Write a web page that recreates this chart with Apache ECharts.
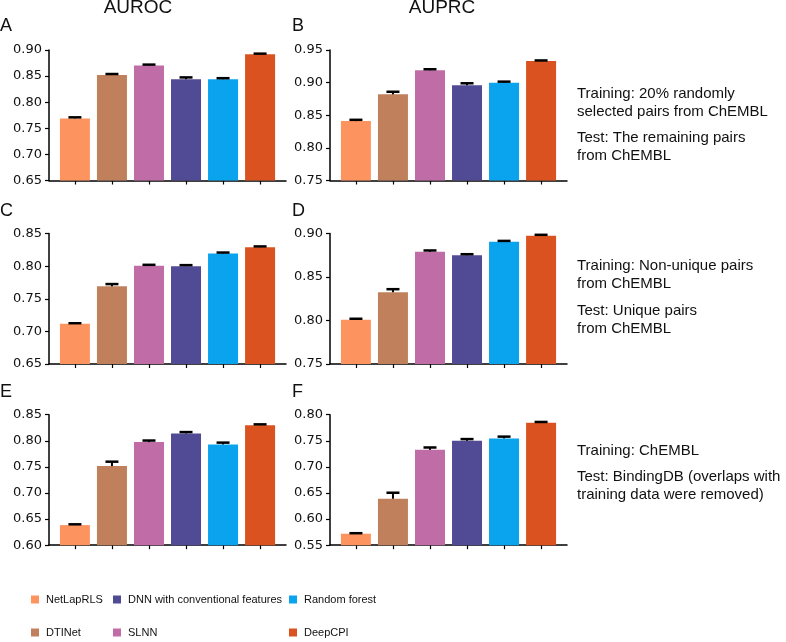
<!DOCTYPE html>
<html>
<head>
<meta charset="utf-8">
<title>DeepCPI AUROC / AUPRC</title>
<script src="https://cdn.jsdelivr.net/npm/echarts@6/dist/echarts.min.js"></script>
<style>
  html, body { margin: 0; padding: 0; background: #fff; }
  #main { width: 786px; height: 642px; }
</style>
</head>
<body>
<div id="main"></div>
<script>
// methods and colours
var methods = ['NetLapRLS', 'DTINet', 'SLNN', 'DNN with conventional features', 'Random forest', 'DeepCPI'];
var colors = ['#fd9460', '#c0805c', '#c06ca6', '#514a95', '#0aa3ee', '#d9521f'];

// values (mean, error above the mean)
var aurocRandom = [0.769, 0.852, 0.8705, 0.844, 0.844, 0.892];
var aurocRandomErr = [0.002, 0.002, 0.0015, 0.0035, 0.002, 0.001];
var auprcRandom = [0.841, 0.882, 0.919, 0.896, 0.900, 0.933];
var auprcRandomErr = [0.002, 0.004, 0.0015, 0.003, 0.0015, 0.001];

var aurocUnique = [0.7115, 0.769, 0.8005, 0.800, 0.8195, 0.829];
var aurocUniqueErr = [0.001, 0.0035, 0.0015, 0.0015, 0.0013, 0.0012];
var auprcUnique = [0.801, 0.8325, 0.879, 0.875, 0.8905, 0.8975];
var auprcUniqueErr = [0.001, 0.0035, 0.0015, 0.0012, 0.001, 0.001];

var aurocBinding = [0.6385, 0.7515, 0.7975, 0.8142, 0.793, 0.830];
var aurocBindingErr = [0.0015, 0.0085, 0.003, 0.0025, 0.0035, 0.0015];
var auprcBinding = [0.572, 0.639, 0.7327, 0.750, 0.7546, 0.7846];
var auprcBindingErr = [0.001, 0.0115, 0.0045, 0.0033, 0.0034, 0.0015];

// y axis ranges per panel (A..F)
var yMin = [0.65, 0.75, 0.65, 0.75, 0.60, 0.55];
var yMax = [0.90, 0.95, 0.85, 0.90, 0.85, 0.80];

var panels = [
  [aurocRandom, aurocRandomErr], [auprcRandom, auprcRandomErr],
  [aurocUnique, aurocUniqueErr], [auprcUnique, auprcUniqueErr],
  [aurocBinding, aurocBindingErr], [auprcBinding, auprcBindingErr]
];

window.onload = function () {
  var myChart = echarts.init(document.getElementById('main'));

  var tops = [50, 233.5, 414.7];
  var lefts = [49, 330];
  var grids = [], xAxes = [], yAxes = [], series = [];

  panels.forEach(function (p, k) {
    var row = Math.floor(k / 2), col = k % 2;
    grids.push({ left: lefts[col], top: tops[row], width: 237, height: 130.5 });
    xAxes.push({
      type: 'value', gridIndex: k, min: -0.7, max: 5.7,
      splitLine: { show: false },
      axisLine: { show: true, onZero: false, lineStyle: { color: '#000', width: 1.5 } },
      axisTick: { show: true, customValues: [0, 1, 2, 3, 4, 5], length: 4, lineStyle: { color: '#000', width: 1.2 } },
      axisLabel: { show: false }
    });
    yAxes.push({
      type: 'value', gridIndex: k, min: yMin[k], max: yMax[k], interval: 0.05,
      splitLine: { show: false },
      axisLine: { show: true, onZero: false, lineStyle: { color: '#000', width: 1.5 } },
      axisTick: { show: true, length: 4, lineStyle: { color: '#000', width: 1.2 } },
      axisLabel: {
        color: '#111', fontSize: 13, fontFamily: 'DejaVu Sans', margin: 7,
        formatter: function (v) { return v.toFixed(2); }
      }
    });

    var vals = p[0], errs = p[1];
    methods.forEach(function (m, i) {
      series.push({
        name: m, type: 'bar', xAxisIndex: k, yAxisIndex: k,
        barWidth: 30, barGap: '-100%',
        itemStyle: { color: colors[i] },
        data: [[i, vals[i]]],
        silent: true
      });
    });

    // error bars: only the upper whisker is visible above each bar
    series.push({
      type: 'custom', xAxisIndex: k, yAxisIndex: k, silent: true, z: 5,
      data: vals.map(function (v, i) { return [i, v, v + errs[i]]; }),
      renderItem: function (params, api) {
        var base = api.coord([api.value(0), api.value(1)]);
        var top = api.coord([api.value(0), api.value(2)]);
        var half = 6.5;
        return {
          type: 'group',
          children: [
            { type: 'line', shape: { x1: base[0], y1: base[1], x2: top[0], y2: top[1] },
              style: { stroke: '#000', lineWidth: 2 } },
            { type: 'line', shape: { x1: top[0] - half, y1: top[1], x2: top[0] + half, y2: top[1] },
              style: { stroke: '#000', lineWidth: 2.5 } }
          ]
        };
      }
    });
  });

  var bigFont = '19px "Liberation Sans", Arial, sans-serif';
  var letterFont = '18px "Liberation Sans", Arial, sans-serif';
  var noteFont = '15px "Liberation Sans", Arial, sans-serif';
  function txt(text, x, y, font, align, vAlign, lh) {
    return { type: 'text', x: x, y: y, silent: true,
      style: { text: text, font: font, fill: '#111', align: align || 'left', verticalAlign: vAlign || 'middle', lineHeight: lh || 18 } };
  }

  var graphic = [
    txt('AUROC', 138, 8, bigFont, 'center'),
    txt('AUPRC', 442, 8, bigFont, 'center'),
    txt('A', 0, 26, letterFont), txt('B', 292, 26, letterFont),
    txt('C', 0, 211.5, letterFont), txt('D', 292, 211.5, letterFont),
    txt('E', 0, 392.5, letterFont), txt('F', 292, 392.5, letterFont),
    txt('Training: 20% randomly\nselected pairs from ChEMBL', 577, 85, noteFont, 'left', 'top'),
    txt('Test: The remaining pairs\nfrom ChEMBL', 577, 128.5, noteFont, 'left', 'top'),
    txt('Training: Non-unique pairs\nfrom ChEMBL', 577, 257, noteFont, 'left', 'top'),
    txt('Test: Unique pairs\nfrom ChEMBL', 577, 302, noteFont, 'left', 'top'),
    txt('Training: ChEMBL', 577, 442, noteFont, 'left', 'top'),
    txt('Test: BindingDB (overlaps with\ntraining data were removed)', 577, 468, noteFont, 'left', 'top')
  ];

  // one legend per item so the 3 x 2 layout matches the figure
  var legendPos = [[31, 594], [31, 627], [113, 627], [113, 594], [289, 594], [289, 627]];
  var legends = methods.map(function (m, i) {
    return {
      data: [m], left: legendPos[i][0], top: legendPos[i][1],
      padding: 0, icon: 'rect', itemWidth: 8, itemHeight: 8,
      selectedMode: false,
      textStyle: { fontSize: 11, fontFamily: '"Liberation Sans", Arial, sans-serif', color: '#111', padding: [0, 0, 0, 2] }
    };
  });

  var option = {
    animation: false,
    color: colors,
    grid: grids,
    xAxis: xAxes,
    yAxis: yAxes,
    legend: legends,
    graphic: graphic,
    series: series
  };

  myChart.setOption(option);
};
</script>
</body>
</html>
